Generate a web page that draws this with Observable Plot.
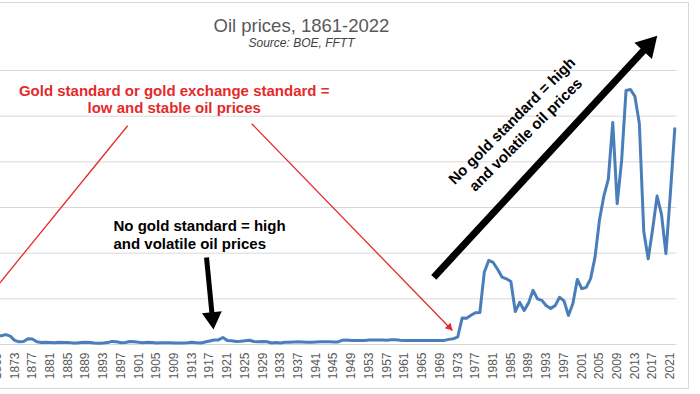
<!DOCTYPE html>
<html><head><meta charset="utf-8">
<script src="https://cdn.jsdelivr.net/npm/d3@7"></script>
<script src="https://cdn.jsdelivr.net/npm/@observablehq/plot@0.6"></script>
<style>
body{margin:0;background:#fff;}
#wrap{position:relative;width:700px;height:394px;overflow:hidden;background:#fff;font-family:"Liberation Sans",Arial,sans-serif;}
#frame{position:absolute;left:-10px;top:2px;width:699px;height:387px;border:1px solid #d9d9d9;box-sizing:border-box;}
#chart{position:absolute;left:-84px;top:0;width:772px;height:394px;}
#title{position:absolute;left:0;width:603px;top:15px;text-align:center;font-size:18.5px;color:#595959;line-height:22px;}
#subtitle{position:absolute;left:0;width:603px;top:36px;text-align:center;font-size:12px;font-style:italic;color:#404040;line-height:14px;}
</style></head>
<body>
<div id="wrap">
  <div id="frame"></div>
  <div id="chart"></div>
  <div id="title">Oil prices, 1861-2022</div>
  <div id="subtitle">Source: BOE, FFTT</div>
</div>
<script>
// ---- data ----
const years = d3.range(1861, 2023);
const prices = [
  0.49, 1.05, 3.15, 8.06, 6.59, 3.74, 2.41, 3.63, 3.64, 3.86,
  4.34, 3.64, 1.83, 1.17, 1.35, 2.56, 2.42, 1.19, 0.86, 0.95,
  0.86, 0.78, 1.00, 0.84, 0.88, 0.71, 0.67, 0.88, 0.94, 0.87,
  0.67, 0.56, 0.64, 0.84, 1.36, 1.18, 0.79, 0.91, 1.29, 1.19,
  0.96, 0.80, 0.94, 0.86, 0.62, 0.73, 0.72, 0.72, 0.70, 0.61,
  0.61, 0.74, 0.95, 0.81, 0.64, 1.10, 1.56, 1.98, 2.01, 3.07,
  1.73, 1.61, 1.34, 1.43, 1.68, 1.88, 1.30, 1.17, 1.27, 1.19,
  0.65, 0.87, 0.67, 1.00, 0.97, 1.09, 1.18, 1.13, 1.02, 1.02,
  1.14, 1.19, 1.20, 1.21, 1.05, 1.12, 1.90, 1.99, 1.78, 1.71,
  1.71, 1.71, 1.93, 1.93, 1.93, 1.93, 1.90, 2.08, 2.08, 1.90,
  1.80, 1.80, 1.80, 1.80, 1.80, 1.80, 1.80, 1.80, 1.80, 1.80,
  2.24, 2.48, 3.29, 11.58, 11.53, 12.80, 13.92, 14.02, 31.61, 36.83,
  35.93, 32.97, 29.55, 28.78, 27.56, 14.43, 18.44, 14.92, 18.23, 23.73,
  20.00, 19.32, 16.97, 15.82, 17.02, 20.67, 19.09, 12.72, 17.97, 28.50,
  24.44, 25.02, 28.83, 38.27, 54.52, 65.14, 72.39, 97.26, 61.67, 80.5,
  111.26, 111.67, 108.66, 96.8, 49.5, 37.5, 50.5, 65.0, 57.0, 39.8,
  66.0, 94.5
];
const tickYears = d3.range(1869, 2023, 4);
const gridValues = [0, 20, 40, 60, 80, 100, 120];

// annotation anchors, in data units (year, price)
const redNoteAt = [{year: 1909, price: 107.4}];
const redLinks = [
  {year1: 1898.5, price1: 95.8, year2: 1865.3, price2: 16.6},
  {year1: 1926.5, price1: 96.7, year2: 1971.8, price2: 6.1}
];
const redHeads = [
  {year: 1971.1, price: 7.6, angle: 135.8},
  {year: 1865.9, price: 18.2, angle: -140.9}
];
const blackNoteAt = [{year: 1895.3, price: 48.1}];
const smallArrow = [{year1: 1916.3, price1: 38.1, year2: 1917.63, price2: 11.6}];
const smallHead = [{year: 1917.63, price: 11.6, angle: 174.4}];
const bigArrow = [{year1: 1967.6, price1: 29.45, year2: 2015.92, price2: 130.8}];
const bigHead = [{year: 2015.92, price: 130.8, angle: 42.75}];
const rotatedNoteAt = [{year: 1986.6, price: 95.3}];

const series = years.map((y, i) => ({year: y, price: prices[i]}));

const RED = "#e42a2a";
const FONT = "Liberation Sans, Arial, sans-serif";

const chart = Plot.plot({
  width: 772, height: 394,
  marginLeft: 42.8, marginRight: 11.5, marginTop: 70, marginBottom: 50,
  style: {fontFamily: FONT, background: "transparent", overflow: "visible"},
  x: {type: "linear", domain: [1860.5, 2022.5]},
  y: {domain: [0, 120], axis: null},
  marks: [
    Plot.ruleY(gridValues, {stroke: "#d9d9d9", strokeWidth: 1}),
    Plot.axisX({ticks: tickYears, tickRotate: -90, tickSize: 0, tickPadding: 8, fontSize: 12, color: "#595959", tickFormat: d => String(d), label: null}),
    Plot.line(series, {x: "year", y: "price", stroke: "#4a7ebb", strokeWidth: 3, strokeLinejoin: "round", strokeLinecap: "round"}),
    // red annotation
    Plot.link(redLinks, {x1: "year1", y1: "price1", x2: "year2", y2: "price2", stroke: RED, strokeWidth: 1.3}),
    Plot.dot(redHeads, {x: "year", y: "price", symbol: "triangle", r: 3, rotate: "angle", fill: RED, stroke: "none"}),
    Plot.text(redNoteAt, {x: "year", y: "price", text: () => "Gold standard or gold exchange standard =\nlow and stable oil prices",
      fill: RED, fontSize: 15, fontWeight: "bold", textAnchor: "middle", lineAnchor: "middle", lineHeight: 1.13}),
    // black small arrow + note
    Plot.text(blackNoteAt, {x: "year", y: "price", text: () => "No gold standard = high\nand volatile oil prices",
      fill: "#000", fontSize: 15, fontWeight: "bold", textAnchor: "start", lineAnchor: "middle", lineHeight: 1.2}),
    Plot.link(smallArrow, {x1: "year1", y1: "price1", x2: "year2", y2: "price2", stroke: "#000", strokeWidth: 5}),
    Plot.dot(smallHead, {x: "year", y: "price", symbol: "triangle", r: 7.4, rotate: "angle", fill: "#000", stroke: "none"}),
    // big diagonal arrow + note
    Plot.link(bigArrow, {x1: "year1", y1: "price1", x2: "year2", y2: "price2", stroke: "#000", strokeWidth: 7}),
    Plot.dot(bigHead, {x: "year", y: "price", symbol: "triangle", r: 8.9, rotate: "angle", fill: "#000", stroke: "none"}),
    Plot.text(rotatedNoteAt, {x: "year", y: "price", text: () => "No gold standard = high\nand volatile oil prices",
      fill: "#000", fontSize: 15, fontWeight: "bold", textAnchor: "middle", lineAnchor: "middle", lineHeight: 1.3, rotate: -45})
  ]
});
document.getElementById("chart").appendChild(chart);
</script>
</body></html>
